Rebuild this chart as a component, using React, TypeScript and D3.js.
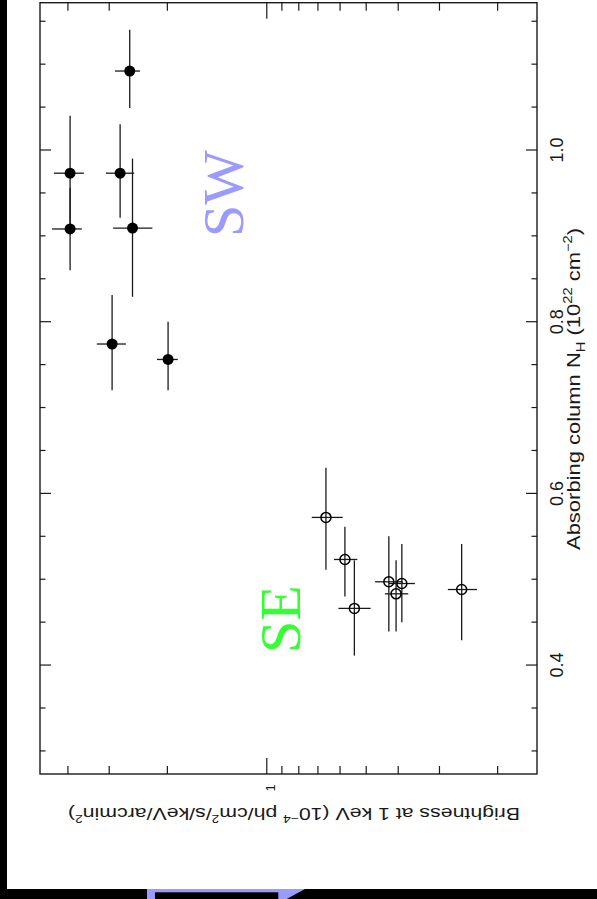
import { useEffect, useRef } from "react";
import { select, scaleLog, scaleLinear } from "d3";

const W = 597, H = 899;

// SW region, filled circles: brightness at 1 keV and absorbing column, with error ranges
const swBright = [2.6, 3.94, 3.94, 2.78, 2.55, 2.94, 1.99];
const swBrightLo = [2.42, 3.58, 3.63, 2.52, 2.22, 2.67, 1.86];
const swBrightHi = [2.88, 4.41, 4.47, 3.07, 2.92, 3.27, 2.15];
const swNH = [1.092, 0.973, 0.908, 0.973, 0.909, 0.774, 0.756];
const swNHLo = [1.049, 0.907, 0.86, 0.921, 0.829, 0.72, 0.72];
const swNHHi = [1.14, 1.04, 0.956, 1.03, 0.99, 0.831, 0.8];

// SE region, open circles
const seBright = [0.662, 0.58, 0.543, 0.427, 0.406, 0.39, 0.257];
const seBrightLo = [0.589, 0.532, 0.485, 0.387, 0.373, 0.356, 0.231];
const seBrightHi = [0.731, 0.626, 0.607, 0.47, 0.439, 0.427, 0.283];
const seNH = [0.572, 0.523, 0.466, 0.497, 0.483, 0.495, 0.488];
const seNHLo = [0.511, 0.48, 0.411, 0.439, 0.439, 0.45, 0.429];
const seNHHi = [0.63, 0.561, 0.522, 0.55, 0.522, 0.541, 0.541];

// ticks
const nhMajor = [0.4, 0.6, 0.8, 1.0];
const nhLabels = ["0.4", "0.6", "0.8", "1.0"];
const nhMinor = [0.3, 0.35, 0.45, 0.5, 0.55, 0.65, 0.7, 0.75, 0.85, 0.9, 0.95, 1.05, 1.1, 1.15];
const brMajor = [1];
const brLabels = ["1"];
const brMinor = [0.2, 0.3, 0.4, 0.5, 0.6, 0.7, 0.8, 0.9, 2, 3, 4];

export default function App() {
  const ref = useRef<SVGSVGElement>(null);

  useEffect(() => {
    if (!ref.current) return;
    const svg = select(ref.current);
    svg.selectAll("*").remove();

    const left = 40, right = 537, top = 2.7, bottom = 774;
    const x = scaleLog().domain([4.86, 0.152]).range([left, right]);
    const y = scaleLinear().domain([0.2731, 1.1716]).range([bottom, top]);
    const ink = "#1a1a1a";
    const font = "'Liberation Sans', Arial, sans-serif";

    svg.append("rect").attr("width", W).attr("height", H).attr("fill", "#fff");
    // black page edges
    svg.append("rect").attr("x", 0).attr("y", 0).attr("width", 7).attr("height", H).attr("fill", "#000");
    svg.append("rect").attr("x", 0).attr("y", 889).attr("width", W).attr("height", 10).attr("fill", "#000");
    svg.append("polygon")
      .attr("points", "147,889 305,889 286.7,899 147,899")
      .attr("fill", "#9a9aff");
    svg.append("rect").attr("x", 155).attr("y", 892.3).attr("width", 123.3).attr("height", 7).attr("fill", "#000");

    // frame
    svg.append("rect")
      .attr("x", left).attr("y", top)
      .attr("width", right - left).attr("height", bottom - top)
      .attr("fill", "none").attr("stroke", ink).attr("stroke-width", 1.4);

    const ticks = svg.append("g").attr("stroke", ink).attr("stroke-width", 1.2);
    // NH ticks on left and right edges
    const vt = (vals: number[], len: number) => {
      vals.forEach((v) => {
        ticks.append("line").attr("x1", left).attr("x2", left + len).attr("y1", y(v)).attr("y2", y(v));
        ticks.append("line").attr("x1", right).attr("x2", right - len).attr("y1", y(v)).attr("y2", y(v));
      });
    };
    vt(nhMajor, 11);
    vt(nhMinor, 5.5);
    // brightness ticks on top and bottom edges
    const ht = (vals: number[], len: number) => {
      vals.forEach((v) => {
        ticks.append("line").attr("x1", x(v)).attr("x2", x(v)).attr("y1", top).attr("y2", top + len);
        ticks.append("line").attr("x1", x(v)).attr("x2", x(v)).attr("y1", bottom).attr("y2", bottom - len);
      });
    };
    ht(brMajor, 16);
    ht(brMinor, 8);

    // tick labels
    nhMajor.forEach((v, i) => {
      svg.append("text")
        .attr("transform", `translate(563,${y(v)}) rotate(-90)`)
        .attr("text-anchor", "middle")
        .attr("font-family", font).attr("font-size", 18).attr("fill", ink)
        .text(nhLabels[i]);
    });
    brMajor.forEach((v, i) => {
      svg.append("text")
        .attr("transform", `translate(${x(v) + 8},${788}) rotate(-90)`)
        .attr("text-anchor", "middle")
        .attr("font-family", font).attr("font-size", 13).attr("fill", ink)
        .text(brLabels[i]);
    });

    // axis titles
    const nhTitle = svg.append("text")
      .attr("transform", "translate(580,389) rotate(-90)")
      .attr("text-anchor", "middle")
      .attr("font-family", font).attr("font-size", 18).attr("fill", ink)
      .attr("textLength", 322).attr("lengthAdjust", "spacingAndGlyphs");
    nhTitle.append("tspan").text("Absorbing column N");
    nhTitle.append("tspan").attr("font-size", 12).attr("dy", 5).text("H");
    nhTitle.append("tspan").attr("dy", -5).text(" (10");
    nhTitle.append("tspan").attr("font-size", 12).attr("dy", -8).text("22");
    nhTitle.append("tspan").attr("dy", 8).text(" cm");
    nhTitle.append("tspan").attr("font-size", 12).attr("dy", -8).text("\u22122");
    nhTitle.append("tspan").attr("dy", 8).text(")");

    const brTitle = svg.append("text")
      .attr("transform", "translate(294,808) rotate(180)")
      .attr("text-anchor", "middle")
      .attr("font-family", font).attr("font-size", 17).attr("fill", ink)
      .attr("textLength", 452).attr("lengthAdjust", "spacingAndGlyphs");
    brTitle.append("tspan").text("Brightness at 1 keV (10");
    brTitle.append("tspan").attr("font-size", 11).attr("dy", -7).text("\u22124");
    brTitle.append("tspan").attr("dy", 7).text(" ph/cm");
    brTitle.append("tspan").attr("font-size", 11).attr("dy", -7).text("2");
    brTitle.append("tspan").attr("dy", 7).text("/s/keV/arcmin");
    brTitle.append("tspan").attr("font-size", 11).attr("dy", -7).text("2");
    brTitle.append("tspan").attr("dy", 7).text(")");

    // error bars + points
    const bars = svg.append("g").attr("stroke", ink).attr("stroke-width", 1.3);
    const drawErr = (b: number[], bl: number[], bh: number[], n: number[], nl: number[], nh: number[]) => {
      b.forEach((v, i) => {
        bars.append("line").attr("x1", x(v)).attr("x2", x(v)).attr("y1", y(nl[i])).attr("y2", y(nh[i]));
        bars.append("line").attr("x1", x(bl[i])).attr("x2", x(bh[i])).attr("y1", y(n[i])).attr("y2", y(n[i]));
      });
    };
    drawErr(swBright, swBrightLo, swBrightHi, swNH, swNHLo, swNHHi);
    drawErr(seBright, seBrightLo, seBrightHi, seNH, seNHLo, seNHHi);

    svg.append("g").selectAll("circle")
      .data(swBright)
      .enter()
      .append("circle")
      .attr("cx", (d) => x(d))
      .attr("cy", (_d, i) => y(swNH[i]))
      .attr("r", 5.5)
      .attr("fill", "#000");

    svg.append("g").selectAll("circle")
      .data(seBright)
      .enter()
      .append("circle")
      .attr("cx", (d) => x(d))
      .attr("cy", (_d, i) => y(seNH[i]))
      .attr("r", 5)
      .attr("fill", "none")
      .attr("stroke", "#000")
      .attr("stroke-width", 1.5);

    // region labels
    svg.append("text")
      .attr("transform", "translate(243,237) rotate(-90)")
      .attr("font-family", "'Liberation Serif', 'Times New Roman', serif")
      .attr("font-size", 58).attr("fill", "#9a9aff")
      .text("SW");
    svg.append("text")
      .attr("transform", "translate(300,653) rotate(-90)")
      .attr("font-family", "'Liberation Serif', 'Times New Roman', serif")
      .attr("font-size", 58).attr("fill", "#33ff33")
      .text("SE");
  }, []);

  return (
    <svg
      ref={ref}
      width={W}
      height={H}
      style={{ position: "absolute", left: 0, top: 0, display: "block" }}
    />
  );
}
